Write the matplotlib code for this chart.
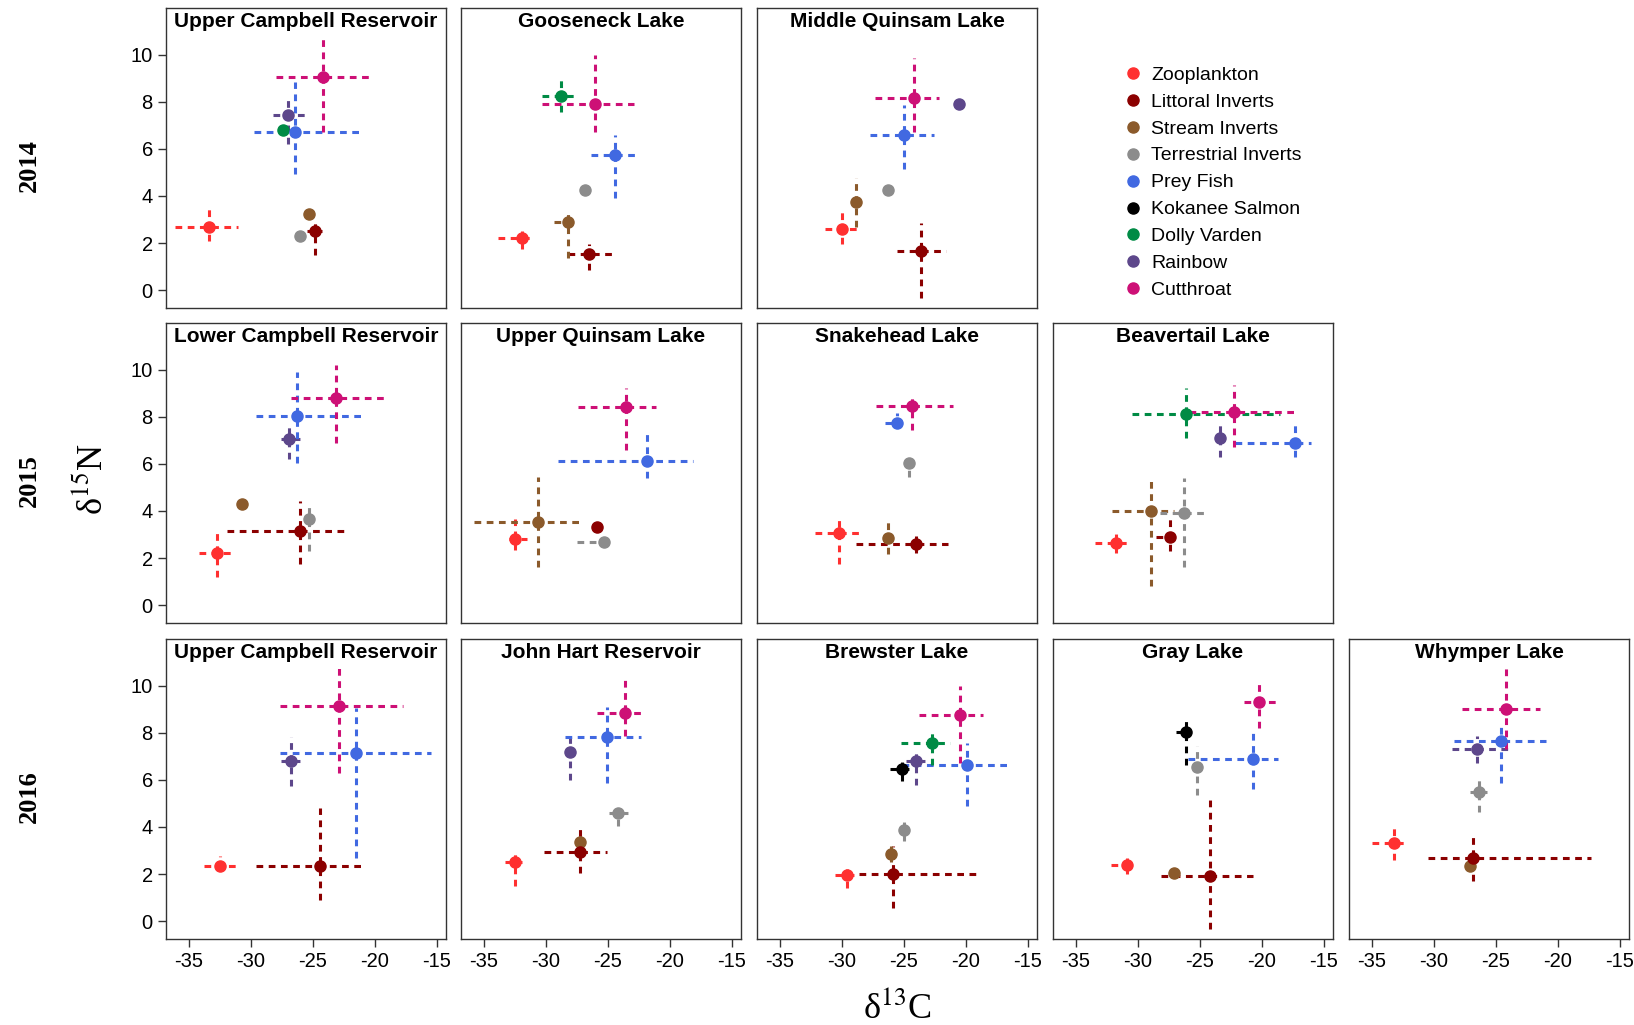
import matplotlib.pyplot as plt
from matplotlib.lines import Line2D

plt.rcParams['font.family'] = ['Liberation Sans', 'DejaVu Sans']
plt.rcParams['axes.unicode_minus'] = False
plt.rcParams['mathtext.fontset'] = 'stix'

# Grupos tróficos y sus colores
grupos = ["Zooplankton", "Littoral Inverts", "Stream Inverts", "Terrestrial Inverts",
          "Prey Fish", "Kokanee Salmon", "Dolly Varden", "Rainbow", "Cutthroat"]
colores = ["#FF3030", "#8B0000", "#8B5A2B", "#8C8C8C",
           "#4169E1", "#000000", "#008B45", "#5D478B", "#CD1076"]

# Cada fila: (grupo, d13C, d15N, rango d13C, rango d15N); None = sin barra
upper_campbell_2014 = [
    ("Zooplankton", -33.4, 2.7, (-36.1, -31.0), (2.1, 3.55)),
    ("Stream Inverts", -25.3, 3.25, None, None),
    ("Terrestrial Inverts", -26.05, 2.3, None, None),
    ("Littoral Inverts", -24.85, 2.5, (-25.45, -24.25), (1.5, 2.95)),
    ("Dolly Varden", -27.4, 6.8, None, None),
    ("Prey Fish", -26.4, 6.7, (-29.75, -21.15), (4.95, 8.85)),
    ("Rainbow", -27.0, 7.45, (-28.25, -25.45), (6.2, 8.25)),
    ("Cutthroat", -24.15, 9.05, (-27.95, -20.45), (6.7, 10.7)),
]
gooseneck_2014 = [
    ("Zooplankton", -31.9, 2.2, (-33.85, -31.0), (1.75, 2.5)),
    ("Littoral Inverts", -26.55, 1.55, (-28.25, -24.35), (0.85, 1.95)),
    ("Stream Inverts", -28.2, 2.9, (-29.35, -27.7), (1.35, 3.4)),
    ("Terrestrial Inverts", -26.85, 4.25, None, None),
    ("Prey Fish", -24.4, 5.75, (-26.35, -22.45), (3.9, 6.6)),
    ("Dolly Varden", -28.8, 8.25, (-30.3, -27.45), (7.55, 9.05)),
    ("Cutthroat", -26.0, 7.9, (-30.35, -22.85), (6.7, 10.0)),
]
middle_quinsam_2014 = [
    ("Zooplankton", -29.95, 2.6, (-31.35, -28.8), (1.95, 3.4)),
    ("Littoral Inverts", -23.65, 1.65, (-25.55, -21.6), (-0.35, 2.85)),
    ("Stream Inverts", -28.85, 3.75, (-29.2, -28.4), (2.7, 4.75)),
    ("Terrestrial Inverts", -26.3, 4.25, None, None),
    ("Prey Fish", -24.95, 6.6, (-27.7, -22.6), (5.15, 7.85)),
    ("Rainbow", -20.55, 7.9, None, None),
    ("Cutthroat", -24.2, 8.15, (-27.3, -22.2), (6.7, 9.85)),
]
lower_campbell_2015 = [
    ("Zooplankton", -32.7, 2.2, (-34.15, -31.35), (1.2, 3.2)),
    ("Stream Inverts", -30.7, 4.3, None, None),
    ("Terrestrial Inverts", -25.3, 3.65, None, (2.3, 4.35)),
    ("Littoral Inverts", -26.0, 3.15, (-31.9, -22.1), (1.75, 4.4)),
    ("Rainbow", -26.9, 7.05, (-27.6, -26.0), (6.2, 7.6)),
    ("Prey Fish", -26.3, 8.05, (-29.6, -21.0), (6.05, 9.9)),
    ("Cutthroat", -23.15, 8.8, (-26.8, -19.25), (6.9, 10.2)),
]
upper_quinsam_2015 = [
    ("Zooplankton", -32.5, 2.8, (-33.0, -31.55), (2.35, 3.65)),
    ("Littoral Inverts", -25.85, 3.3, None, None),
    ("Stream Inverts", -30.6, 3.55, (-35.8, -27.2), (1.6, 5.45)),
    ("Terrestrial Inverts", -25.3, 2.7, (-27.45, -24.75), None),
    ("Prey Fish", -21.8, 6.1, (-29.05, -18.15), (5.4, 7.45)),
    ("Cutthroat", -23.55, 8.4, (-27.4, -21.1), (6.6, 9.2)),
]
snakehead_2015 = [
    ("Zooplankton", -30.2, 3.05, (-32.2, -28.3), (1.75, 3.8)),
    ("Littoral Inverts", -24.05, 2.6, (-28.85, -21.45), (2.2, 2.95)),
    ("Stream Inverts", -26.25, 2.85, None, (2.15, 3.55)),
    ("Terrestrial Inverts", -24.55, 6.05, None, (5.45, 6.25)),
    ("Prey Fish", -25.55, 7.75, (-26.55, -25.15), (7.5, 8.15)),
    ("Cutthroat", -24.3, 8.45, (-27.25, -21.05), (7.45, 8.9)),
]
beavertail_2015 = [
    ("Zooplankton", -31.75, 2.65, (-33.45, -30.75), (2.2, 3.05)),
    ("Littoral Inverts", -27.4, 2.9, (-28.55, -27.2), (2.3, 3.7)),
    ("Stream Inverts", -28.95, 4.0, (-32.1, -27.05), (0.8, 5.25)),
    ("Terrestrial Inverts", -26.3, 3.9, (-28.25, -24.35), (1.6, 5.4)),
    ("Prey Fish", -17.35, 6.9, (-22.2, -16.0), (6.3, 7.75)),
    ("Rainbow", -23.35, 7.1, None, (6.3, 7.8)),
    ("Dolly Varden", -26.15, 8.1, (-30.45, -18.55), (7.1, 9.2)),
    ("Cutthroat", -22.25, 8.2, (-25.85, -17.35), (6.7, 9.35)),
]
upper_campbell_2016 = [
    ("Zooplankton", -32.5, 2.35, (-33.75, -30.95), (2.2, 2.75)),
    ("Littoral Inverts", -24.4, 2.35, (-29.6, -21.0), (0.9, 4.8)),
    ("Prey Fish", -21.55, 7.15, (-27.65, -15.5), (2.7, 9.05)),
    ("Rainbow", -26.8, 6.8, (-27.6, -25.85), (5.75, 7.8)),
    ("Cutthroat", -22.85, 9.15, (-27.65, -17.75), (6.3, 10.75)),
]
john_hart_2016 = [
    ("Zooplankton", -32.5, 2.5, (-33.3, -31.9), (1.5, 2.95)),
    ("Stream Inverts", -27.25, 3.35, None, None),
    ("Littoral Inverts", -27.25, 2.95, (-30.15, -25.1), (2.05, 4.1)),
    ("Terrestrial Inverts", -24.2, 4.6, (-24.9, -23.4), (4.05, 4.8)),
    ("Rainbow", -28.05, 7.2, None, (6.0, 7.9)),
    ("Prey Fish", -25.1, 7.8, (-28.45, -22.35), (5.85, 9.1)),
    ("Cutthroat", -23.6, 8.85, (-25.9, -22.0), (7.85, 10.3)),
]
brewster_2016 = [
    ("Zooplankton", -29.55, 1.95, (-30.55, -28.65), (1.4, 2.35)),
    ("Littoral Inverts", -25.9, 2.0, (-28.65, -18.95), (0.55, 3.2)),
    ("Stream Inverts", -26.0, 2.85, None, (2.5, 3.2)),
    ("Terrestrial Inverts", -24.95, 3.85, None, (3.4, 4.25)),
    ("Prey Fish", -19.9, 6.65, (-25.15, -16.25), (4.9, 7.55)),
    ("Dolly Varden", -22.75, 7.55, (-25.25, -21.3), (6.65, 8.05)),
    ("Kokanee Salmon", -25.15, 6.45, (-26.1, -24.5), (5.95, 6.85)),
    ("Rainbow", -24.05, 6.8, (-24.8, -23.0), (5.8, 7.3)),
    ("Cutthroat", -20.45, 8.75, (-23.75, -18.6), (6.7, 10.0)),
]
gray_2016 = [
    ("Zooplankton", -30.9, 2.4, (-32.15, -30.3), (2.0, 2.7)),
    ("Stream Inverts", -27.05, 2.05, None, None),
    ("Littoral Inverts", -24.2, 1.9, (-28.15, -20.7), (-0.35, 5.35)),
    ("Prey Fish", -20.7, 6.9, (-25.95, -18.7), (5.6, 8.15)),
    ("Kokanee Salmon", -26.1, 8.05, (-26.9, -25.85), (6.65, 8.65)),
    ("Terrestrial Inverts", -25.25, 6.55, None, (5.35, 7.45)),
    ("Cutthroat", -20.25, 9.3, (-21.45, -18.7), (8.2, 10.2)),
]
whymper_2016 = [
    ("Zooplankton", -33.25, 3.3, (-35.0, -32.3), (2.6, 4.0)),
    ("Stream Inverts", -27.1, 2.35, None, None),
    ("Littoral Inverts", -26.85, 2.7, (-30.5, -17.35), (1.7, 3.75)),
    ("Terrestrial Inverts", -26.35, 5.5, (-27.05, -25.7), (4.65, 6.1)),
    ("Prey Fish", -24.55, 7.65, (-28.4, -20.95), (5.85, 8.4)),
    ("Rainbow", -26.5, 7.3, (-28.55, -23.65), (6.7, 7.85)),
    ("Cutthroat", -24.2, 9.0, (-27.7, -21.4), (7.3, 10.75)),
]

# (fila, columna, título, datos)
paneles = [
    (0, 0, "Upper Campbell Reservoir", upper_campbell_2014),
    (0, 1, "Gooseneck Lake", gooseneck_2014),
    (0, 2, "Middle Quinsam Lake", middle_quinsam_2014),
    (1, 0, "Lower Campbell Reservoir", lower_campbell_2015),
    (1, 1, "Upper Quinsam Lake", upper_quinsam_2015),
    (1, 2, "Snakehead Lake", snakehead_2015),
    (1, 3, "Beavertail Lake", beavertail_2015),
    (2, 0, "Upper Campbell Reservoir", upper_campbell_2016),
    (2, 1, "John Hart Reservoir", john_hart_2016),
    (2, 2, "Brewster Lake", brewster_2016),
    (2, 3, "Gray Lake", gray_2016),
    (2, 4, "Whymper Lake", whymper_2016),
]
anios = ["2014", "2015", "2016"]


def barra(valor, rango):
    # convierte un rango (min, max) en errores asimétricos
    if rango is None:
        return None
    return [[valor - rango[0]], [rango[1] - valor]]


W, H = 1634, 1025
fig = plt.figure(figsize=(W / 100, H / 100), dpi=100)

col_izq = [166, 461, 757, 1053, 1349]
fila_sup = [8, 323, 639]
ancho, alto = 280, 300

for fila, col, titulo, datos in paneles:
    ax = fig.add_axes([col_izq[col] / W, 1 - (fila_sup[fila] + alto) / H, ancho / W, alto / H])
    for grupo, x, y, rx, ry in datos:
        c = colores[grupos.index(grupo)]
        eb = ax.errorbar(x, y, xerr=barra(x, rx), yerr=barra(y, ry),
                         fmt="o", color=c, ms=8, elinewidth=2.2, capsize=0)
        for linea in eb.lines[2]:
            linea.set_linestyle((0, (2.2, 1.8)))
    ax.set_xlim(-36.85, -14.25)
    ax.set_ylim(-0.76, 11.98)
    ax.set_xticks([-35, -30, -25, -20, -15])
    ax.set_yticks([0, 2, 4, 6, 8, 10])
    ax.tick_params(labelsize=14.5, length=6, width=1, color="#333333")
    if col != 0:
        ax.tick_params(axis="y", left=False, labelleft=False)
    if fila != 2:
        ax.tick_params(axis="x", bottom=False, labelbottom=False)
    for lado in ax.spines.values():
        lado.set_color("#333333")
        lado.set_linewidth(1.0)
    ax.text(0.5, 0.987, titulo, transform=ax.transAxes, ha="center", va="top",
            fontsize=15, fontweight="bold")

# Etiquetas de año por fila
for fila, anio in enumerate(anios):
    yc = 1 - (fila_sup[fila] + alto / 2 + 8) / H
    fig.text(29 / W, yc, anio, rotation=90, ha="center", va="center",
             family="Liberation Serif", fontweight="bold", fontsize=19)

fig.text(93 / W, 1 - 479 / H, "δ$^{15}$N", rotation=90, ha="center", va="center",
         family="Liberation Serif", fontsize=26)
fig.text(897 / W, 1 - 1008 / H, "δ$^{13}$C", ha="center", va="center",
         family="Liberation Serif", fontsize=26)

# Leyenda
marcas = [Line2D([], [], ls="none", marker="o", ms=8, color=c) for c in colores]
fig.legend(marcas, grupos, loc="upper left", bbox_to_anchor=(1120 / W, 1 - 66 / H),
           frameon=False, fontsize=14, handletextpad=0.3, labelspacing=0.48,
           handlelength=1.3, borderaxespad=0, borderpad=0)

plt.savefig("out.png", dpi=100)
